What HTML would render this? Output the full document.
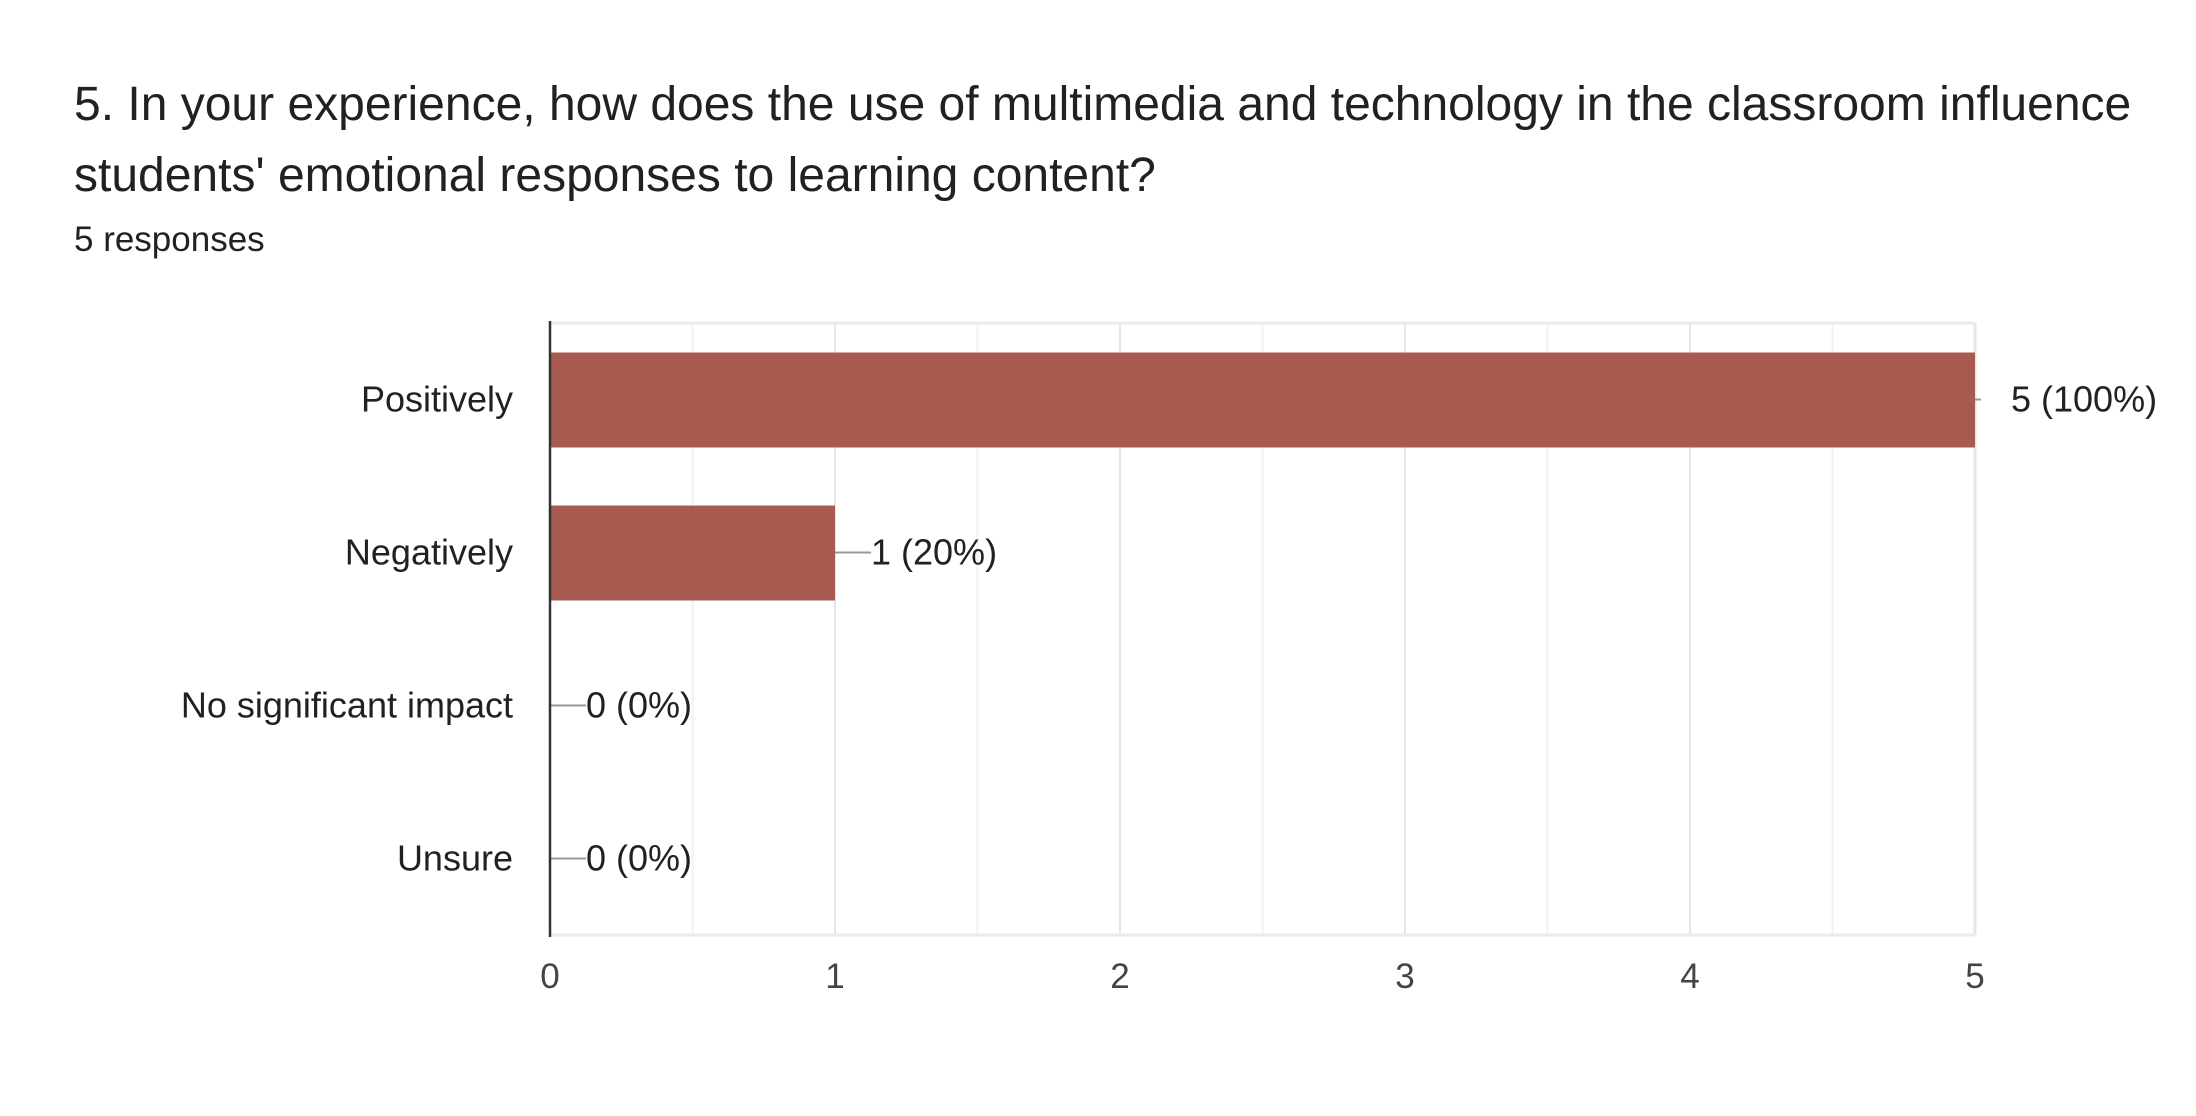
<!DOCTYPE html>
<html><head><meta charset="utf-8"><style>
body{margin:0;background:#fff;width:2196px;height:1116px;overflow:hidden;font-family:"Liberation Sans",Arial,sans-serif;}
#title{position:absolute;left:74px;top:69px;font-size:48px;line-height:71px;color:#202124;white-space:nowrap;}
#resp{position:absolute;left:74px;top:220px;font-size:35px;color:#202124;}
svg{position:absolute;left:0;top:0;}
</style></head><body>
<div id="title">5. In your experience, how does the use of multimedia and technology in the classroom influence<br>students' emotional responses to learning content?</div>
<div id="resp">5 responses</div>
<svg id="chart" width="2196" height="1116"></svg>
<script>
const categories=["Positively","Negatively","No significant impact","Unsure"];
const values=[5,1,0,0];
const valueLabels=["5 (100%)","1 (20%)","0 (0%)","0 (0%)"];
const ticks=[0,1,2,3,4,5];
const L=550,R=1975,T=323,B=935,maxV=5;
const x=v=>L+(R-L)*v/maxV;
const band=(B-T)/categories.length;
const yc=i=>T+band*(i+0.5);
const svg=document.getElementById('chart');
const NS='http://www.w3.org/2000/svg';
function mk(tag,attrs){const e=document.createElementNS(NS,tag);for(const k in attrs)e.setAttribute(k,attrs[k]);svg.appendChild(e);return e;}
for(let v=0.5;v<=maxV;v+=0.5){
  const g=mk('line',{x1:x(v),x2:x(v),y1:T,y2:B,stroke:v%1===0?'#e6e6e6':'#f2f2f2','stroke-width':v===maxV?3:2});
  
  
}
const tb=mk('line',{x1:L,x2:R,y1:T,y2:T,stroke:'#ebebeb','stroke-width':3});


const bb=mk('line',{x1:L,x2:R,y1:B,y2:B,stroke:'#ebebeb','stroke-width':3});


categories.forEach((c,i)=>{
  const y=yc(i);
  if(values[i]>0){
    const r=mk('rect',{x:L,y:y-47,width:x(values[i])-L,height:95,fill:'#a85a50'});
    
    
  }
  const ex=x(values[i]);
  const ld=mk('line',{x1:ex,x2:ex+(values[i]>=maxV?6:36),y1:y,y2:y,stroke:'#999','stroke-width':2});
  
  
  const vl=mk('text',{x:ex+36,y:y+12,'font-size':36,fill:'#202124'});
  vl.textContent=valueLabels[i];
  
  
  const cl=mk('text',{x:513,y:y+12,'font-size':36,fill:'#202124','text-anchor':'end'});
  cl.textContent=c;
  
  
});
const ax=mk('line',{x1:L,x2:L,y1:T-2,y2:B+2,stroke:'#333','stroke-width':2.5});


ticks.forEach(t=>{
  const tl=mk('text',{x:x(t),y:988,'font-size':35,fill:'#444','text-anchor':'middle'});
  tl.textContent=t;
  
  
});
</script>
</body></html>
